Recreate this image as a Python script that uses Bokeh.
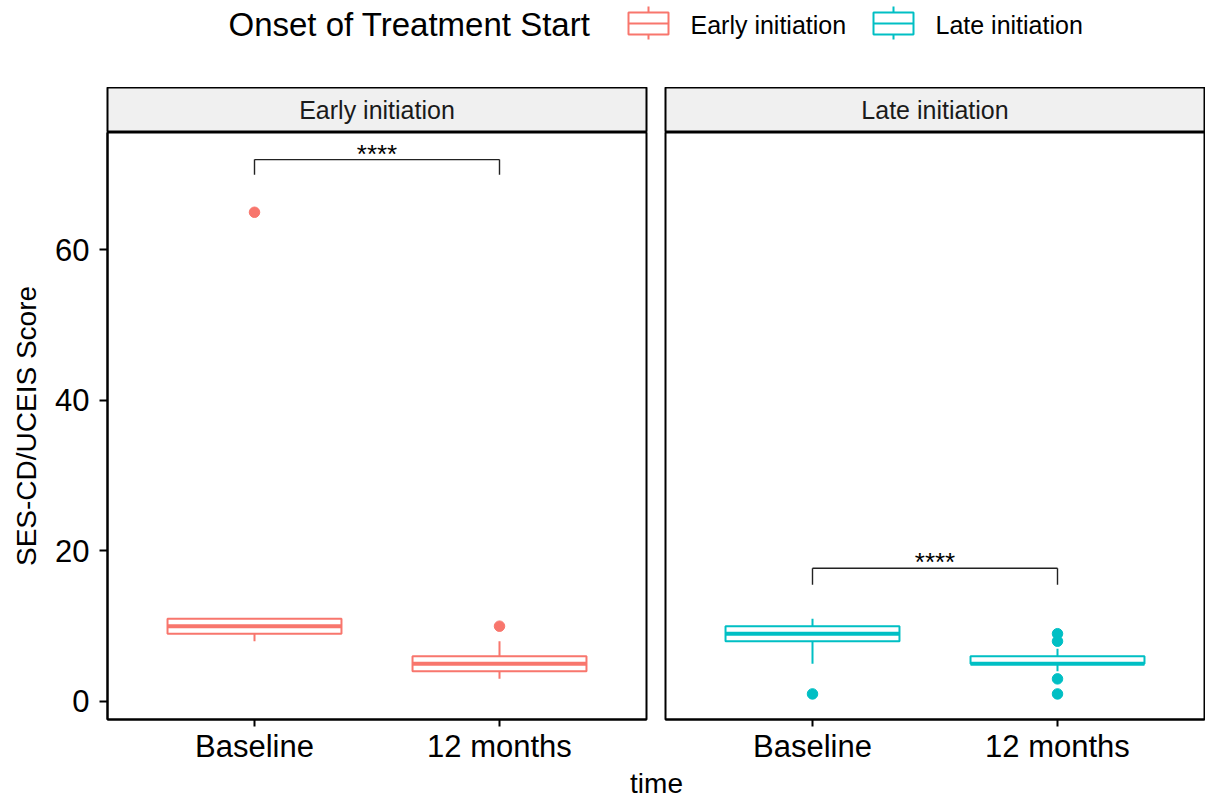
from bokeh.plotting import figure
from bokeh.models import Range1d, FixedTicker
from bokeh.layouts import column, row
from bokeh.embed import file_html
from bokeh.resources import INLINE
from bokeh.core.properties import value

FONT = "Liberation Sans"

# ---------------- data ----------------
facets = ["Early initiation", "Late initiation"]
facet_colors = ["#F8766D", "#00BFC4"]
times = ["Baseline", "12 months"]

box_facet = ["Early initiation", "Early initiation", "Late initiation", "Late initiation"]
box_time = ["Baseline", "12 months", "Baseline", "12 months"]
box_lower = [8, 3, 5, 4]
box_q1 = [9, 4, 8, 5]
box_median = [10, 5, 9, 5]
box_q3 = [11, 6, 10, 6]
box_upper = [11, 8, 11, 7]

out_facet = ["Early initiation", "Early initiation", "Late initiation",
             "Late initiation", "Late initiation", "Late initiation", "Late initiation"]
out_time = ["Baseline", "12 months", "Baseline", "12 months", "12 months", "12 months", "12 months"]
out_value = [65, 10, 1, 9, 8, 3, 1]

sig_facet = ["Early initiation", "Late initiation"]
sig_label = ["****", "****"]
sig_y = [72.0, 17.7]
sig_tip = [70.0, 15.5]

y_ticks = [0, 20, 40, 60]
legend_title = "Onset of Treatment Start"
x_title = "time"
y_title = "SES-CD/UCEIS Score"

# ---------------- layout constants ----------------
FW = 539
FH = 587
LEFT1 = 107
GAP_R = 9
GAP_L = 10
RIGHT2 = 1
BOX_W = 0.71
TW = LEFT1 + FW + GAP_R + GAP_L + FW + RIGHT2


def make_panel(facet, color, first):
    lb = LEFT1 if first else GAP_L
    rb = GAP_R if first else RIGHT2
    # strip
    s = figure(x_range=Range1d(0, 1), y_range=Range1d(0, 1), frame_width=FW, frame_height=45,
               min_border_left=lb, min_border_right=rb, min_border_top=0, min_border_bottom=0,
               x_axis_type=None, y_axis_type=None, output_backend="svg", toolbar_location=None,
               background_fill_color="#F0F0F0", border_fill_color="white",
               outline_line_color="black", outline_line_width=2)
    s.grid.visible = False
    s.text(x=[0.5], y=[0.5], text=[facet], text_align="center", text_baseline="middle",
           text_font=value(FONT), text_font_size="25px", text_color="#1a1a1a")

    p = figure(x_range=Range1d(0.4, 2.6), y_range=Range1d(-2.4, 75.6),
               frame_width=FW, frame_height=FH,
               min_border_left=lb, min_border_right=rb, min_border_top=0, min_border_bottom=44,
               y_axis_type="linear" if first else None,
               output_backend="svg", toolbar_location=None,
               outline_line_color="black", outline_line_width=2)
    p.grid.visible = False

    idx = [i for i, f in enumerate(box_facet) if f == facet]
    xs = [times.index(box_time[i]) + 1 for i in idx]
    p.vbar(x=xs, width=BOX_W, bottom=[box_q1[i] for i in idx], top=[box_q3[i] for i in idx],
           fill_color="white", line_color=color, line_width=2)
    p.segment(x0=xs, y0=[box_q3[i] for i in idx], x1=xs, y1=[box_upper[i] for i in idx],
              line_color=color, line_width=2)
    p.segment(x0=xs, y0=[box_q1[i] for i in idx], x1=xs, y1=[box_lower[i] for i in idx],
              line_color=color, line_width=2)
    p.rect(x=xs, y=[box_median[i] for i in idx], width=BOX_W, height=4, height_units="screen",
           fill_color=color, line_color=None)

    oidx = [i for i, f in enumerate(out_facet) if f == facet]
    p.scatter(x=[times.index(out_time[i]) + 1 for i in oidx], y=[out_value[i] for i in oidx],
              size=10.5, fill_color=color, line_color=color)

    si = sig_facet.index(facet)
    x1, x2 = 1, len(times)
    p.segment(x0=[x1, x1, x2], y0=[sig_y[si], sig_y[si], sig_y[si]],
              x1=[x2, x1, x2], y1=[sig_y[si], sig_tip[si], sig_tip[si]],
              line_color="#222222", line_width=1.4)
    p.text(x=[(x1 + x2) / 2], y=[sig_y[si]], text=[sig_label[si]], text_align="center",
           text_baseline="alphabetic", y_offset=-6, text_font=value(FONT), text_font_size="26px",
           text_color="black")

    p.xaxis.ticker = FixedTicker(ticks=[1, 2])
    p.xaxis.major_label_overrides = {1: times[0], 2: times[1]}
    p.xaxis.major_label_text_font = FONT
    p.xaxis.major_label_text_font_size = "31px"
    p.xaxis.major_label_text_color = "black"
    p.xaxis.major_tick_out = 7
    p.xaxis.major_tick_in = 0
    p.xaxis.minor_tick_line_color = None
    p.xaxis.major_tick_line_color = "black"
    p.xaxis.major_tick_line_width = 2
    p.xaxis.axis_line_color = "black"
    p.xaxis.axis_line_width = 2
    p.xaxis.major_label_standoff = 2
    if first:
        p.yaxis.ticker = FixedTicker(ticks=y_ticks)
        p.yaxis.major_label_text_font = FONT
        p.yaxis.major_label_text_font_size = "31px"
        p.yaxis.major_label_text_color = "black"
        p.yaxis.major_tick_out = 8
        p.yaxis.major_tick_in = 0
        p.yaxis.minor_tick_line_color = None
        p.yaxis.major_tick_line_color = "black"
        p.yaxis.major_tick_line_width = 2
        p.yaxis.axis_line_color = "black"
        p.yaxis.axis_line_width = 2
        p.yaxis.major_label_standoff = 10
        p.yaxis.axis_label = y_title
        p.yaxis.axis_label_text_font = FONT
        p.yaxis.axis_label_text_font_size = "28px"
        p.yaxis.axis_label_text_font_style = "normal"
        p.yaxis.axis_label_text_color = "black"
        p.yaxis.axis_label_standoff = 10
    return column(s, p, spacing=0)


panels = [make_panel(f, c, i == 0) for i, (f, c) in enumerate(zip(facets, facet_colors))]

# ---------------- legend header ----------------
LH = 87
leg = figure(x_range=Range1d(0, TW), y_range=Range1d(LH, 0), width=TW, height=LH,
             min_border=0, x_axis_type=None, y_axis_type=None, outline_line_color=None,
             output_backend="svg", toolbar_location=None)
leg.grid.visible = False
leg.text(x=[228], y=[24], text=[legend_title], text_align="left", text_baseline="middle",
         text_font=value(FONT), text_font_size="33px", text_color="black")
key_x = [628, 873]
lab_x = [690, 935]
for kx, lx, f, c in zip(key_x, lab_x, facets, facet_colors):
    leg.quad(left=[kx], right=[kx + 40], top=[12], bottom=[34], fill_color="white",
             line_color=c, line_width=2)
    leg.segment(x0=[kx, kx + 20, kx + 20], y0=[23, 6, 34], x1=[kx + 40, kx + 20, kx + 20],
                y1=[23, 12, 39], line_color=c, line_width=2)
    leg.text(x=[lx], y=[24], text=[f], text_align="left", text_baseline="middle",
             text_font=value(FONT), text_font_size="25px", text_color="black")

# ---------------- x title ----------------
TH = 34
tfig = figure(x_range=Range1d(0, TW), y_range=Range1d(TH, 0), width=TW, height=TH,
              min_border=0, x_axis_type=None, y_axis_type=None, outline_line_color=None,
              output_backend="svg", toolbar_location=None)
tfig.grid.visible = False
tfig.text(x=[656], y=[17], text=[x_title], text_align="center", text_baseline="middle",
          text_font=value(FONT), text_font_size="28px", text_color="black")

layout = column(leg, row(*panels, spacing=0), tfig, spacing=0)

open("out.html", "w").write(file_html(layout, INLINE))
